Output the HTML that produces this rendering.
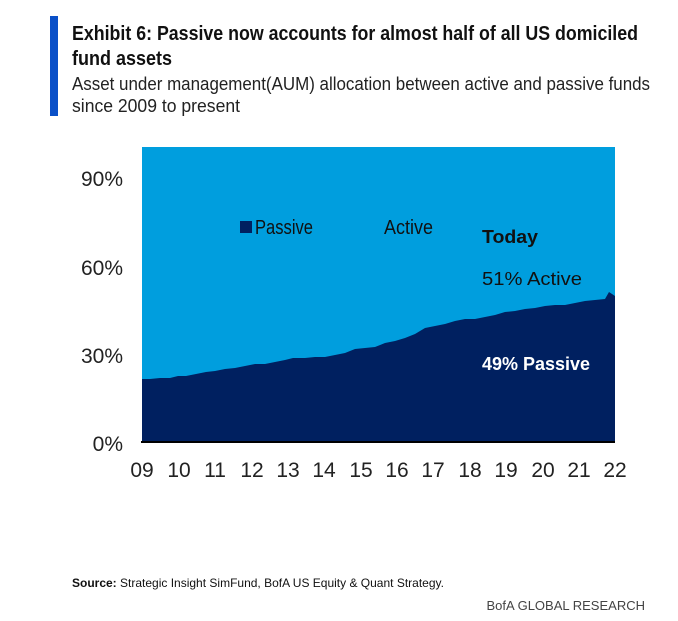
<!DOCTYPE html>
<html><head><meta charset="utf-8"><style>
body{margin:0;width:678px;height:621px;background:#fff;font-family:"Liberation Sans",sans-serif;position:relative;overflow:hidden}
.bar{position:absolute;left:50px;top:16px;width:8px;height:100px;background:#0a50c8}
</style></head><body>
<div class="bar"></div>
<svg width="678" height="621" style="position:absolute;left:0;top:0">
<g font-family="Liberation Sans Narrow, Liberation Sans, sans-serif">
<text x="72" y="40" font-size="20" font-weight="bold" fill="#111" textLength="566" lengthAdjust="spacingAndGlyphs">Exhibit 6: Passive now accounts for almost half of all US domiciled</text>
<text x="72" y="65" font-size="20" font-weight="bold" fill="#111" textLength="100" lengthAdjust="spacingAndGlyphs">fund assets</text>
<text x="72" y="90" font-size="18" fill="#222" textLength="578" lengthAdjust="spacingAndGlyphs">Asset under management(AUM) allocation between active and passive funds</text>
<text x="72" y="112" font-size="18" fill="#222" textLength="168" lengthAdjust="spacingAndGlyphs">since 2009 to present</text>
</g>
<rect x="142" y="147" width="473" height="295" fill="#009ede"/>
<polygon fill="#002060" points="142,442 142,379 150,379 160,378 170,378 178,376 186,376 196,374 206,372 215,371 225,369 235,368 245,366 255,364 265,364 275,362 285,360 293,358 305,358 315,357 325,357 335,355 345,353 355,349 365,348 375,347 385,343 395,341 405,338 415,334 425,328 435,326 445,324 455,321 465,319 475,319 485,317 495,315 505,312 515,311 525,309 535,308 545,306 555,305 565,305 575,303 585,301 595,300 605,299 609,292 615,296 615,442"/>
<rect x="141" y="441" width="474" height="2" fill="#000"/>
<g font-size="21" fill="#222" text-anchor="end" font-family="Liberation Sans Narrow, Liberation Sans, sans-serif">
<text x="123" y="186">90%</text><text x="123" y="275">60%</text><text x="123" y="363">30%</text><text x="123" y="451">0%</text></g>
<g font-size="21" fill="#222" text-anchor="middle" font-family="Liberation Sans Narrow, Liberation Sans, sans-serif">
<text x="142" y="477">09</text><text x="179" y="477">10</text><text x="215" y="477">11</text><text x="252" y="477">12</text><text x="288" y="477">13</text><text x="324" y="477">14</text><text x="361" y="477">15</text><text x="397" y="477">16</text><text x="433" y="477">17</text><text x="470" y="477">18</text><text x="506" y="477">19</text><text x="543" y="477">20</text><text x="579" y="477">21</text><text x="615" y="477">22</text></g>
<rect x="240" y="221" width="12" height="12" fill="#002060"/>
<text x="255" y="234" font-size="20" fill="#111" font-family="Liberation Sans Narrow, Liberation Sans, sans-serif" textLength="58" lengthAdjust="spacingAndGlyphs">Passive</text>
<text x="384" y="234" font-size="20" fill="#111" font-family="Liberation Sans Narrow, Liberation Sans, sans-serif" textLength="49" lengthAdjust="spacingAndGlyphs">Active</text>
<text x="482" y="243" font-size="18" font-weight="bold" fill="#111" textLength="56" lengthAdjust="spacingAndGlyphs">Today</text>
<text x="482" y="285" font-size="18" fill="#111" textLength="100" lengthAdjust="spacingAndGlyphs">51% Active</text>
<text x="482" y="370" font-size="18" font-weight="bold" fill="#fff" textLength="108" lengthAdjust="spacingAndGlyphs">49% Passive</text>
<text x="72" y="587" font-size="12" fill="#111"><tspan font-weight="bold">Source:</tspan> Strategic Insight SimFund, BofA US Equity &amp; Quant Strategy.</text>
<text x="645" y="610" font-size="13" fill="#444" text-anchor="end">BofA GLOBAL RESEARCH</text>
</svg>
</body></html>
